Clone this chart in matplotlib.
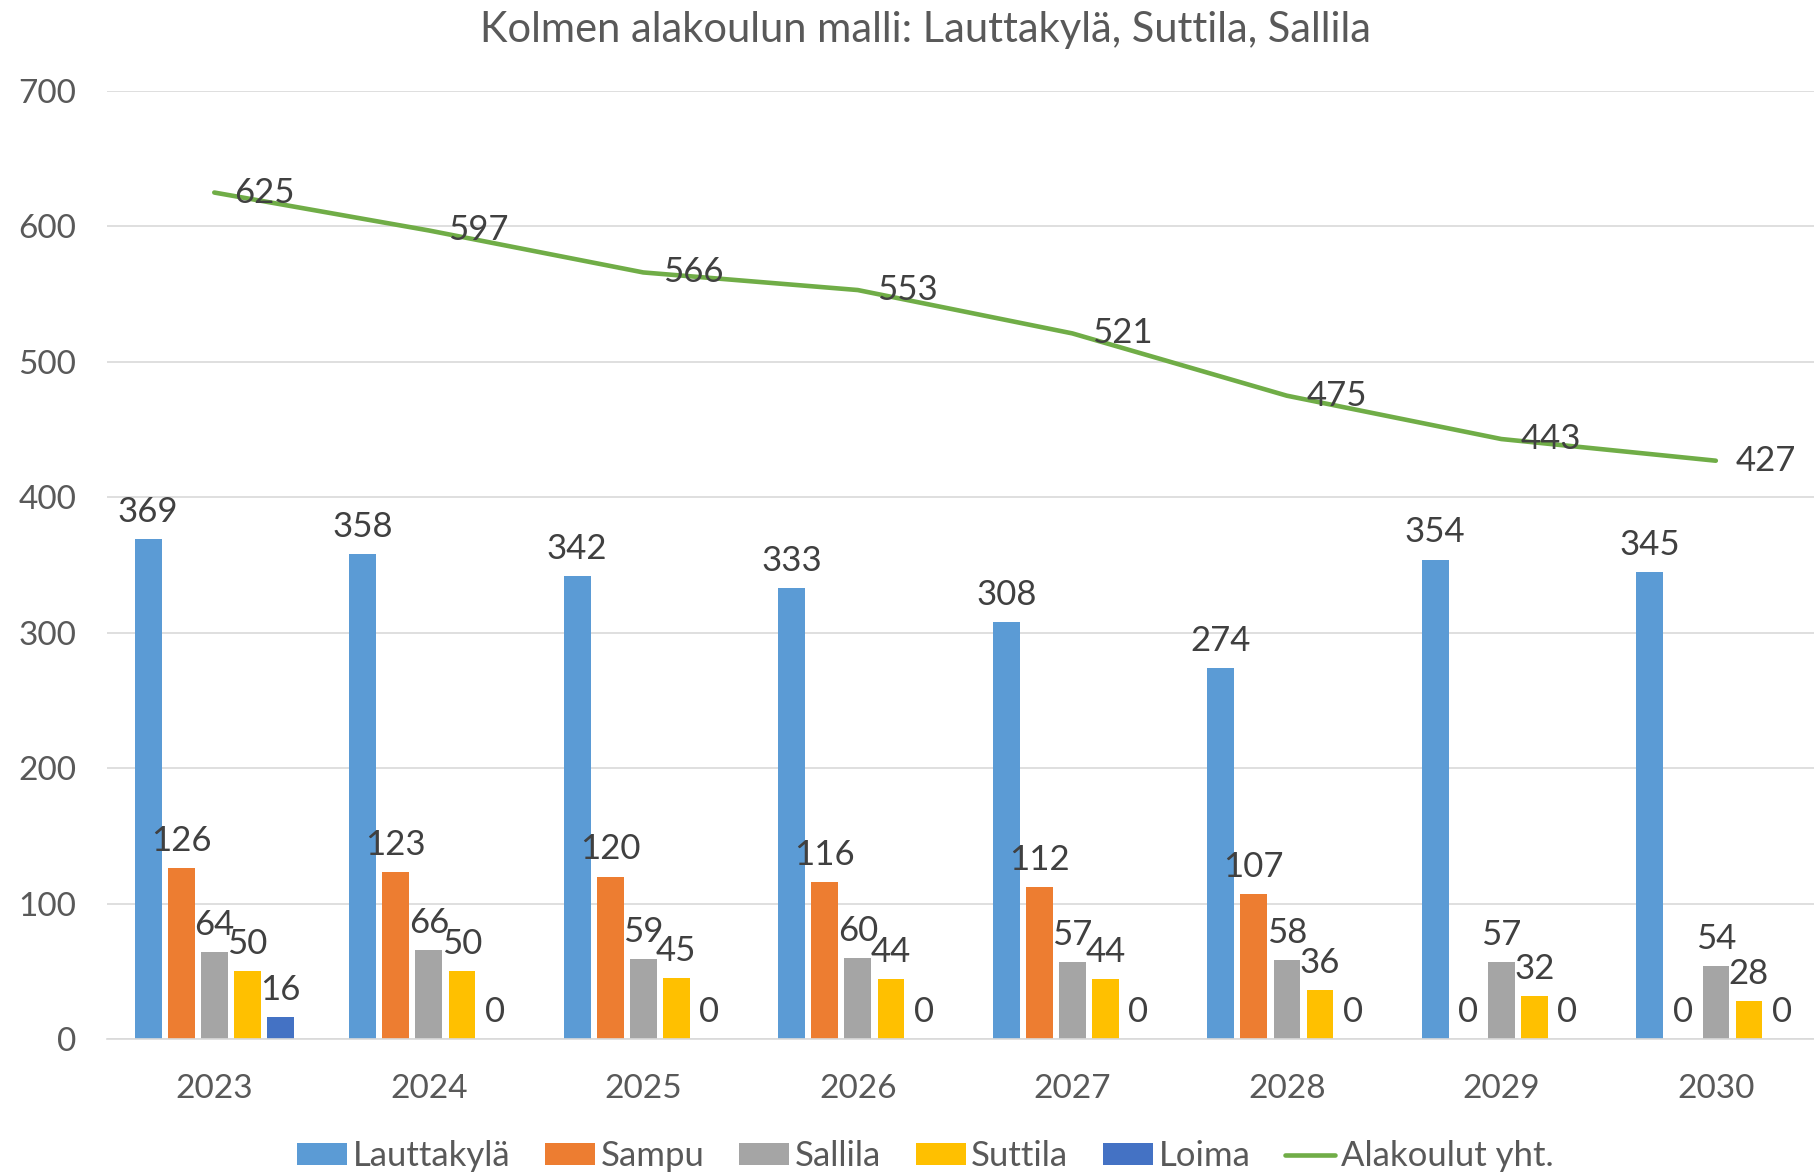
import matplotlib
matplotlib.use("Agg")
import matplotlib.pyplot as plt
import numpy as np

# data
years = ["2023", "2024", "2025", "2026", "2027", "2028", "2029", "2030"]
lauttakyla = [369, 358, 342, 333, 308, 274, 354, 345]
sampu = [126, 123, 120, 116, 112, 107, 0, 0]
sallila = [64, 66, 59, 60, 57, 58, 57, 54]
suttila = [50, 50, 45, 44, 44, 36, 32, 28]
loima = [16, 0, 0, 0, 0, 0, 0, 0]
total = [625, 597, 566, 553, 521, 475, 443, 427]

series_names = ["Lauttakylä", "Sampu", "Sallila", "Suttila", "Loima"]
series_colors = ["#5B9BD5", "#ED7D31", "#A5A5A5", "#FFC000", "#4472C4"]

plt.rcParams['font.family'] = ['Lato', 'DejaVu Sans']

fig = plt.figure(figsize=(18.14, 11.75), dpi=100)
ax = fig.add_axes([0.059, 0.1157, 0.946, 0.8069])

x = np.arange(len(years))
bar_w = 0.124
pitch = 0.154

handles = []
all_series = [lauttakyla, sampu, sallila, suttila, loima]
for i, vals in enumerate(all_series):
    pos = x + (i - 2) * pitch
    b = ax.bar(pos, vals, width=bar_w, color=series_colors[i], label=series_names[i], zorder=2)
    handles.append(b)
    for px, v in zip(pos, vals):
        ax.annotate(str(v), (px, v), xytext=(0, 8), textcoords="offset points",
                    ha="center", va="bottom", fontsize=25, color="#404040")

# total line
ln, = ax.plot(x, total, color="#70AD47", linewidth=3.3, label="Alakoulut yht.", zorder=3,
              solid_capstyle="round")
handles.append(ln)
for px, v in zip(x, total):
    ax.annotate(str(v), (px, v), xytext=(14, 0), textcoords="offset points",
                ha="left", va="center", fontsize=25, color="#404040", zorder=4)

ax.set_xlim(-0.5, 7.5)
ax.set_ylim(0, 700)
ax.set_yticks(range(0, 701, 100))
ax.set_xticks(x)
ax.set_xticklabels(years)
ax.tick_params(axis="both", length=0, labelsize=24, labelcolor="#595959")
ax.tick_params(axis="x", pad=25)
ax.tick_params(axis="y", pad=22)

ax.grid(axis="y", color="#D9D9D9", linewidth=1.2, zorder=0)
for side in ["top", "right", "left"]:
    ax.spines[side].set_visible(False)
ax.spines["bottom"].set_color("#D9D9D9")
ax.spines["bottom"].set_linewidth(1.2)

fig.suptitle("Kolmen alakoulun malli: Lauttakylä, Suttila, Sallila", x=0.51, y=0.991,
             fontsize=30, color="#595959", va="top")

fig.legend(handles=handles, loc="center", bbox_to_anchor=(0.51, 0.016), ncol=6, frameon=False,
           fontsize=25, labelcolor="#595959", handlelength=1.45, handleheight=0.6,
           handletextpad=0.15, columnspacing=1.0)

fig.savefig("out.png", dpi=100)
